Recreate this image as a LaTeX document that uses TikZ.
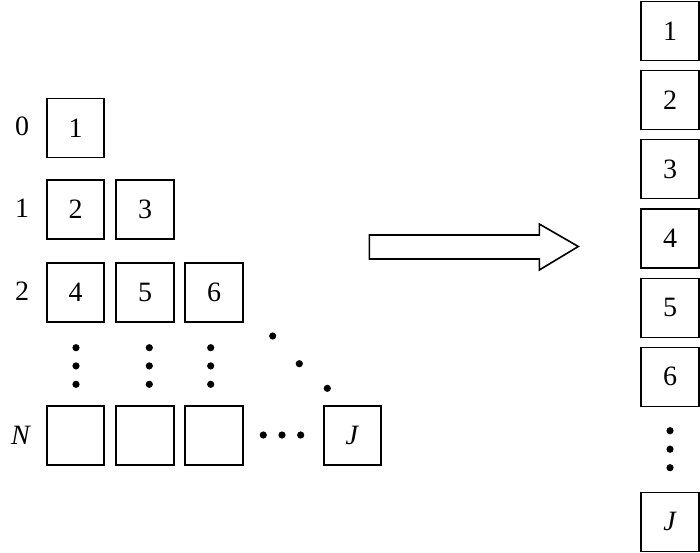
\documentclass[tikz,border=0pt]{standalone}
\usepackage{fontspec}
\setmainfont{Liberation Serif}
\begin{document}
\begin{tikzpicture}[x=1pt,y=-1pt,
  cell/.style={draw,line width=1.6pt,minimum width=57.5pt,minimum height=59pt,inner sep=0pt,font=\fontsize{28}{28}\selectfont},
  lbl/.style={font=\fontsize{28}{28}\selectfont,inner sep=0pt},
  dot/.style={circle,fill=black,minimum size=7.2pt,inner sep=0pt}]
\useasboundingbox (0,0) rectangle (700,552);
% left triangle
\node[lbl] (l0) at (22,126) {0};
\node[lbl] (l1) at (22,208) {1};
\node[lbl] (l2) at (22,291) {2};
\node[lbl] (lN) at (21,435) {\textit{N}};
\node[cell] (a1) at (75.5,127.8) {1};
\node[cell] (a2) at (75.5,209.7) {2};
\node[cell] (a3) at (145,209.7) {3};
\node[cell] (a4) at (75.5,292.2) {4};
\node[cell] (a5) at (145,292.2) {5};
\node[cell] (a6) at (214,292.2) {6};
\node[cell] (n1) at (75.5,435.3) {};
\node[cell] (n2) at (145,435.3) {};
\node[cell] (n3) at (214,435.3) {};
\node[cell] (nJ) at (352.5,435.3) {\textit{J}};
% vertical dots
\foreach \c/\x in {1/76,2/149.3,3/210.7}{
  \node[dot] (v\c a) at (\x,347.7) {};
  \node[dot] (v\c b) at (\x,365.9) {};
  \node[dot] (v\c c) at (\x,384.3) {};
}
% diagonal dots
\node[dot] (d1) at (272.7,336) {};
\node[dot] (d2) at (299.3,363.7) {};
\node[dot] (d3) at (327.3,388.3) {};
% horizontal dots
\node[dot] (h1) at (263.3,435) {};
\node[dot] (h2) at (282,435) {};
\node[dot] (h3) at (300.7,435) {};
% big arrow
\draw[line width=1.6pt,line join=miter] (369.3,235) -- (539.3,235) -- (539.3,224) -- (578.3,246.5) -- (539.3,270) -- (539.3,259) -- (369.3,259) -- cycle;
% right column
\node[cell] (r1) at (670,31) {1};
\node[cell] (r2) at (670,99.8) {2};
\node[cell] (r3) at (670,169) {3};
\node[cell] (r4) at (670,238.5) {4};
\node[cell] (r5) at (670,307.8) {5};
\node[cell] (r6) at (670,376.8) {6};
\node[dot] (rd1) at (670,430.7) {};
\node[dot] (rd2) at (670,449.2) {};
\node[dot] (rd3) at (670,467.7) {};
\node[cell] (rJ) at (670,521.8) {\textit{J}};
\end{tikzpicture}
\end{document}
